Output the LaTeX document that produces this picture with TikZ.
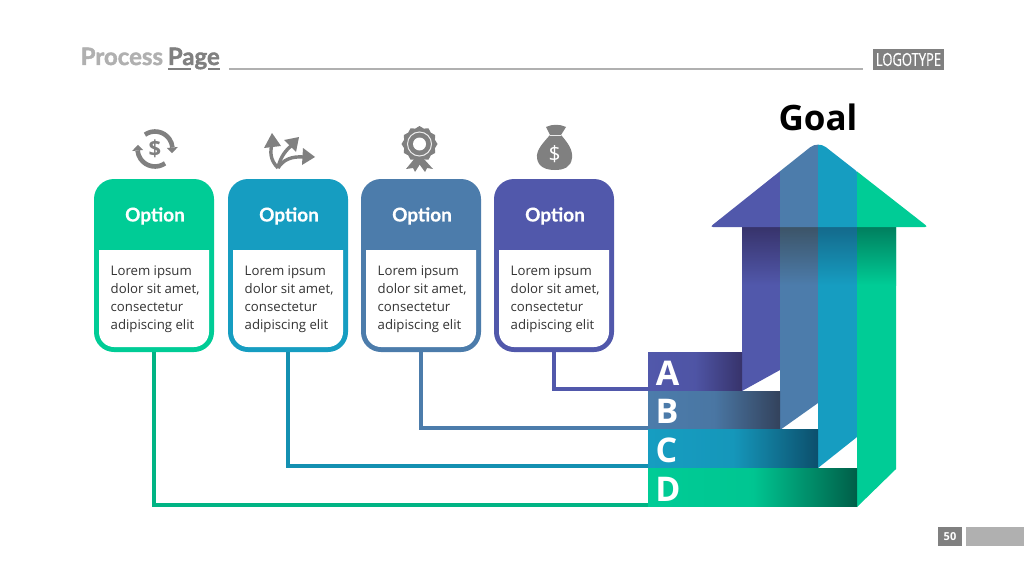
\documentclass[tikz,border=0pt]{standalone}
\usepackage{fontspec}
\setmainfont{Open Sans}
\newfontfamily\headfont[BoldFeatures={FakeBold=0.5}]{Lato}
\newfontfamily\titlefont[BoldFeatures={FakeBold=1.6}]{Lato}
\newfontfamily\bodyfont{Open Sans}
\newfontfamily\logofont[FakeStretch=0.72,FakeBold=0.4]{Open Sans}
\definecolor{cgreen}{HTML}{00CC96}
\definecolor{cblue}{HTML}{169DC1}
\definecolor{csteel}{HTML}{4C7CAB}
\definecolor{cpurple}{HTML}{5158AB}
\definecolor{dgreen}{HTML}{005E48}
\definecolor{dblue}{HTML}{0C4F6C}
\definecolor{dsteel}{HTML}{33425C}
\definecolor{dpurple}{HTML}{37336B}
\definecolor{tgreen}{HTML}{007F5E}
\definecolor{tblue}{HTML}{146A8C}
\definecolor{tsteel}{HTML}{3C5468}
\definecolor{tpurple}{HTML}{37336B}
\definecolor{gdark}{HTML}{808080}
\definecolor{glight}{HTML}{B0B0B0}
\definecolor{bodytext}{HTML}{333333}
\tikzset{
  cardbox/.style={draw=none,rounded corners=20pt,minimum width=120pt,minimum height=173pt,inner sep=0pt},
  cardhead/.style={text=white,font=\headfont\bfseries\fontsize{19}{21}\selectfont},
  cardbody/.style={anchor=west,align=left,inner sep=0pt,text=bodytext,font=\bodyfont\fontsize{13.2}{18}\selectfont},
  conn/.style={line width=4.4pt},
  barbox/.style={inner sep=0pt,minimum height=38.5pt},
  barletter/.style={text=white,font=\bodyfont\bfseries\fontsize{34}{36}\selectfont,inner sep=0pt},
}
\begin{document}
\begin{tikzpicture}[x=1pt,y=-1pt]
\useasboundingbox (0,0) rectangle (1024,575);
\fill[white] (0,0) rectangle (1024,575);

% page header
\node[anchor=base west,inner sep=0pt,font=\titlefont\bfseries\fontsize{24}{26}\selectfont] (title) at (80.5,65) {\textcolor{glight}{Process}\hspace{-1pt} \textcolor{gdark}{Page}};
\fill[gdark] (168,68) rectangle (191,70.5);
\fill[gdark] (208,68) rectangle (220,70.5);
\fill[glight] (229,67.6) rectangle (863,70.4);
\node[fill=gdark,text=white,minimum width=71pt,minimum height=21pt,inner sep=0pt,font=\logofont\fontsize{18}{19}\selectfont] (logo) at (908.5,59.5) {LOGOTYPE};
\node[fill=gdark,text=white,minimum width=24pt,minimum height=19pt,inner sep=0pt,font=\bodyfont\bfseries\fontsize{11}{12}\selectfont] (pagenum) at (950,536.5) {50};
\node[fill=glight,minimum width=58pt,minimum height=19pt,inner sep=0pt] (pagebar) at (995,536.5) {};

% goal arrow: shaft bands
\fill[cpurple] (742,227) -- (780,227) -- (780,370) -- (742,391) -- cycle;
\fill[csteel] (780,227) -- (818,227) -- (818,403) -- (780,430) -- cycle;
\fill[cblue] (818,227) -- (857,227) -- (857,437) -- (818,468) -- cycle;
\fill[cgreen] (857,227) -- (896,227) -- (896,469) -- (857,507) -- cycle;
\shade[top color=tpurple,bottom color=cpurple] (742,227) rectangle (780,285);
\shade[top color=tsteel,bottom color=csteel] (780,227) rectangle (818,285);
\shade[top color=tblue,bottom color=cblue] (818,227) rectangle (857,285);
\shade[top color=tgreen,bottom color=cgreen] (857,227) rectangle (896,285);

% goal arrow: head
\begin{scope}
\clip[rounded corners=3pt] (710,227) [rounded corners=10pt] -- (818,141) [rounded corners=3pt] -- (928,227) -- cycle;
\fill[cpurple] (700,130) rectangle (780,230);
\fill[csteel] (780,130) rectangle (818,230);
\fill[cblue] (818,130) rectangle (857,230);
\fill[cgreen] (857,130) rectangle (935,230);
\end{scope}
\node[font=\bodyfont\bfseries\fontsize{35}{37}\selectfont,text=black,inner sep=0pt] (goal) at (818,117) {Goal};

% bars
\node[barbox,minimum width=94pt,left color=cpurple,right color=dpurple,middle color=cpurple!90!dpurple] (barA) at (695,372) {};
\node[barbox,minimum width=132pt,left color=csteel,right color=dsteel,middle color=csteel!90!dsteel] (barB) at (714,410.5) {};
\node[barbox,minimum width=170pt,left color=cblue,right color=dblue,middle color=cblue!92!dblue] (barC) at (733,449) {};
\node[barbox,minimum width=209pt,left color=cgreen,right color=dgreen,middle color=cgreen!94!dgreen] (barD) at (752.5,487.5) {};
\node[barletter] (letA) at (667.5,373) {A};
\node[barletter] (letB) at (667,411) {B};
\node[barletter] (letC) at (666.5,450) {C};
\node[barletter] (letD) at (668,489) {D};

% cards
\foreach \n/\cx/\c in {1/154/cgreen,2/288/cblue,3/421/csteel,4/554/cpurple}{
  \node[cardbox,fill=\c] (card\n) at (\cx,265.5) {};
  \fill[white] (\cx-55,250) [sharp corners] -- (\cx+55,250) [rounded corners=15pt] -- (\cx+55,347) -- (\cx-55,347) [sharp corners] -- cycle;
  \node[cardhead] (head\n) at (\cx+1,216) {Option};
  \node[cardbody] (body\n) at (\cx-43.5,299.5) {Lorem ipsum\\dolor sit amet,\\consectetur\\adipiscing elit};
}

% connectors
\draw[conn,cgreen!88!black] (card1.south) |- ([yshift=2.2pt]barD.south west);
\draw[conn,cblue!92!black] (card2.south) |- ([yshift=2.2pt]barC.south west);
\draw[conn,csteel] (card3.south) |- ([yshift=2.2pt]barB.south west);
\draw[conn,cpurple] (card4.south) |- ([yshift=2.2pt]barA.south west);

% icon 1: dollar cycle
\begin{scope}[shift={(155,149)},yscale=-1]
\draw[gdark,line width=4.6pt] (125:17.5) arc (125:5:17.5);
\draw[gdark,line width=4.6pt] (-55:17.5) arc (-55:-175:17.5);
\fill[gdark] (5:12) -- (5:23) -- (-14:17.5) -- cycle;
\fill[gdark] (185:12) -- (185:23) -- (166:17.5) -- cycle;
\end{scope}
\node[text=gdark,font=\bodyfont\bfseries\fontsize{22}{24}\selectfont,inner sep=0pt] (dollar1) at (155,149) {\$};

% icon 2: branching arrows
\draw[gdark,line width=3.4pt] (278,168) .. controls (270,160) and (270,152) .. (272,144);
\fill[gdark] (264,148) -- (272,133) -- (281,146) -- cycle;
\draw[gdark,line width=3.4pt] (278,168) .. controls (280,158) and (285,151) .. (291,146);
\fill[gdark] (284,140) -- (299,137) -- (296,152) -- cycle;
\draw[gdark,line width=3.4pt] (278,168) .. controls (283,160) and (291,156) .. (304,157);
\fill[gdark] (303,148) -- (315,157) -- (302,165) -- cycle;

% icon 3: rosette
\fill[gdark] (415,158) -- (406,169) -- (413,168) -- (415,172) -- (422,161) -- cycle;
\fill[gdark] (423,158) -- (433,169) -- (427,168) -- (425,172) -- (417,161) -- cycle;
\begin{scope}[shift={(419.5,144)}]
\fill[gdark] (0:18) \foreach \a in {15,30,...,345}{ -- (\a:{mod(\a,30)==0 ? 18 : 16}) } -- cycle;
\draw[white!85!gdark,line width=1pt] (0,0) circle (12);
\fill[white] (0,0) circle (6.5);
\end{scope}

% icon 4: money bag
\fill[gdark] (546,127) .. controls (552,124) and (560,124) .. (566,127) -- (561,135) .. controls (568,143) and (573,150) .. (572,158) .. controls (571,167) and (564,170) .. (555,170) .. controls (546,170) and (538,167) .. (537,158) .. controls (536,150) and (543,143) .. (550,135) -- cycle;
\draw[white!85!gdark,line width=1pt] (550,135.5) -- (561,135.5);
\node[text=white,font=\bodyfont\fontsize{21}{23}\selectfont,inner sep=0pt] (dollar4) at (554.5,154.5) {\$};
\end{tikzpicture}
\end{document}
